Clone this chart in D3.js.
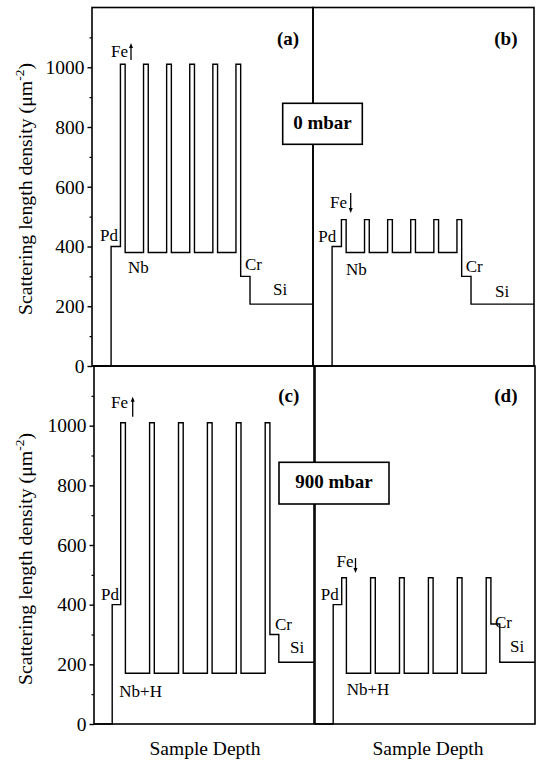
<!DOCTYPE html>
<html>
<head>
<meta charset="utf-8">
<script src="https://cdn.jsdelivr.net/npm/d3@7"></script>
<style>
  html, body { margin: 0; padding: 0; background: #fff; }
  svg { display: block; }
</style>
</head>
<body>
<svg id="chart" width="537" height="764"></svg>
<script>
// Depth axis (arbitrary units) and SLD axis (µm^-2)
const depthDomain = [0, 220];
const sldDomain = [0, 1200];
const yTickValues = [0, 200, 400, 600, 800, 1000];
const yMinorTickValues = [100, 300, 500, 700, 900, 1100];

// Layer stack from the surface (ambient) down to the Si substrate
const layerNames = ["ambient", "Pd", "Fe", "Nb", "Fe", "Nb", "Fe", "Nb", "Fe", "Nb", "Fe", "Nb", "Fe", "Cr", "Si"];

// Layer thicknesses (depth units) without and with hydrogen
const thickness0mbar   = [19, 9.3, 4.7, 18.3, 4.7, 18.3, 4.7, 18.3, 4.7, 18.3, 4.7, 18.3, 4.7, 9.3, 62.7];
const thickness900mbar = [18.2, 8.5, 4.7, 24.2, 4.7, 24.2, 4.7, 24.2, 4.7, 24.2, 4.7, 24.2, 4.7, 8.9, 35.2];

// Scattering length density of every layer, per panel
const sldA = [0, 400, 1010, 380, 1010, 380, 1010, 380, 1010, 380, 1010, 380, 1010, 300, 207]; // 0 mbar, Fe up
const sldB = [0, 400, 490, 380, 490, 380, 490, 380, 490, 380, 490, 380, 490, 300, 207];       // 0 mbar, Fe down
const sldC = [0, 400, 1010, 170, 1010, 170, 1010, 170, 1010, 170, 1010, 170, 1010, 300, 207]; // 900 mbar, Fe up
const sldD = [0, 400, 490, 170, 490, 170, 490, 170, 490, 170, 490, 170, 490, 335, 207];       // 900 mbar, Fe down

const pressureLabels = ["0 mbar", "900 mbar"];
const panelLetters = ["(a)", "(b)", "(c)", "(d)"];
const yAxisTitle = "Scattering length density (\u03BCm";
const xAxisTitle = "Sample Depth";

const SERIF = "'Liberation Serif', 'Times New Roman', Tinos, Times, 'DejaVu Serif', serif";

const svg = d3.select("#chart");

// Panel frames (pixels)
const rows = [
  { top: 7.5, bottom: 366, lefts: [92, 313], width: 221 },
  { top: 366, bottom: 724, lefts: [94, 315], width: 220 }
];

const panels = [
  { row: 0, col: 0, thick: thickness0mbar, sld: sldA, letter: panelLetters[0],
    lab: { Fe: [19, 49.5], arrow: [39, 52.5, 35.5], Pd: [8, 233.5], Nb: [36, 265.5], Cr: [153, 262.5], Si: [181, 287.5], L: [185, 37.5] }, nb: "Nb" },
  { row: 0, col: 1, thick: thickness0mbar, sld: sldB, letter: panelLetters[1],
    lab: { Fe: [17, 200.5], arrow: [37.7, 185.5, 205.5], Pd: [5.3, 234.2], Nb: [33, 267.5], Cr: [152.7, 264.2], Si: [182, 289.2], L: [181.3, 37.5] }, nb: "Nb" },
  { row: 1, col: 0, thick: thickness900mbar, sld: sldC, letter: panelLetters[2],
    lab: { Fe: [17, 42.3], arrow: [38.7, 50.7, 30.7], Pd: [7, 234], Nb: [25.3, 330.7], Cr: [181, 264], Si: [196, 286.7], L: [184.3, 35.5] }, nb: "Nb+H" },
  { row: 1, col: 1, thick: thickness900mbar, sld: sldD, letter: panelLetters[3],
    lab: { Fe: [21.5, 200.7], arrow: [40.5, 192, 207], Pd: [5.7, 234], Nb: [31.7, 329], Cr: [180, 262.3], Si: [195, 285.7], L: [179.3, 35.5] }, nb: "Nb+H" }
];

panels.forEach(p => {
  const r = rows[p.row];
  const left = r.lefts[p.col];
  const h = r.bottom - r.top;
  const g = svg.append("g").attr("transform", `translate(${left},${r.top})`);

  const x = d3.scaleLinear().domain(depthDomain).range([0, r.width]);
  const y = d3.scaleLinear().domain(sldDomain).range([h, 0]);

  // Step profile built from the layer thicknesses
  let depth = 0;
  const pts = p.thick.map((t, i) => { const pt = { d: depth, v: p.sld[i] }; depth += t; return pt; });
  pts.push({ d: depth, v: p.sld[p.sld.length - 1] });

  const line = d3.line().x(d => x(d.d)).y(d => y(d.v)).curve(d3.curveStepAfter);
  g.append("path").datum(pts)
    .attr("d", line)
    .attr("fill", "none")
    .attr("stroke", "#000")
    .attr("stroke-width", 1.4)
    .attr("stroke-linejoin", "miter");

  // Frame
  g.append("rect").attr("x", 0).attr("y", 0).attr("width", r.width).attr("height", h)
    .attr("fill", "none").attr("stroke", "#000").attr("stroke-width", 1.6);

  // Left axis only on the left column
  if (p.col === 0) {
    const ax = g.append("g").call(d3.axisLeft(y).tickValues(yTickValues).tickSize(4.5).tickPadding(3).tickFormat(d3.format("d")));
    ax.attr("font-family", null).attr("font-size", null);
    ax.select(".domain").remove();
    ax.selectAll("line").attr("stroke-width", 1.4);
    ax.selectAll("text").style("font-family", SERIF).style("font-size", "19.5px").attr("fill", "#000");
    const mn = g.append("g").call(d3.axisLeft(y).tickValues(yMinorTickValues).tickSize(2.5).tickFormat(""));
    mn.select(".domain").remove();
    mn.selectAll("line").attr("stroke-width", 1.2);
  }

  // Layer labels
  const lbl = (txt, pos) => g.append("text").attr("x", pos[0]).attr("y", pos[1])
    .style("font-family", SERIF).style("font-size", "17px").text(txt);
  lbl("Fe", p.lab.Fe);
  lbl("Pd", p.lab.Pd);
  lbl(p.nb, p.lab.Nb);
  lbl("Cr", p.lab.Cr);
  lbl("Si", p.lab.Si);

  // Fe magnetisation arrow
  const [axp, ay0, ay1] = p.lab.arrow;
  const dir = ay1 < ay0 ? -1 : 1;
  g.append("line").attr("x1", axp).attr("x2", axp).attr("y1", ay0).attr("y2", ay1 - dir * 4)
    .attr("stroke", "#000").attr("stroke-width", 1.3);
  g.append("path")
    .attr("d", `M${axp - 2},${ay1 - dir * 5} L${axp + 2},${ay1 - dir * 5} L${axp},${ay1} Z`)
    .attr("fill", "#000");

  // Panel letter
  g.append("text").attr("x", p.lab.L[0]).attr("y", p.lab.L[1])
    .style("font-family", SERIF).style("font-size", "19px").style("font-weight", "bold").text(p.letter);
});

// Pressure boxes straddling the column divider
const boxes = [
  { x0: 282.7, x1: 362.3, y0: 103.3, y1: 144.3, txt: pressureLabels[0] },
  { x0: 279, x1: 389, y0: 462.3, y1: 504, txt: pressureLabels[1] }
];
boxes.forEach(b => {
  svg.append("rect").attr("x", b.x0).attr("y", b.y0).attr("width", b.x1 - b.x0).attr("height", b.y1 - b.y0)
    .attr("fill", "#fff").attr("stroke", "#000").attr("stroke-width", 1.6);
  svg.append("text").attr("x", (b.x0 + b.x1) / 2).attr("y", b.y0 + 26)
    .attr("text-anchor", "middle").style("font-family", SERIF)
    .style("font-size", "19px").style("font-weight", "bold").text(b.txt);
});

// Y axis titles
[[26, 189], [26, 559]].forEach(([cx, cy]) => {
  const t = svg.append("text").attr("transform", `translate(${cx + 6},${cy}) rotate(-90)`)
    .attr("text-anchor", "middle").style("font-family", SERIF).style("font-size", "19.8px");
  t.append("tspan").text(yAxisTitle);
  t.append("tspan").attr("dy", -8).style("font-size", "13.5px").text("-2");
  t.append("tspan").attr("dy", 8).text(")");
});

// X axis titles
[205, 428].forEach(cx => {
  svg.append("text").attr("x", cx).attr("y", 754.5).attr("text-anchor", "middle")
    .style("font-family", SERIF).style("font-size", "19.5px").text(xAxisTitle);
});
</script>
</body>
</html>
